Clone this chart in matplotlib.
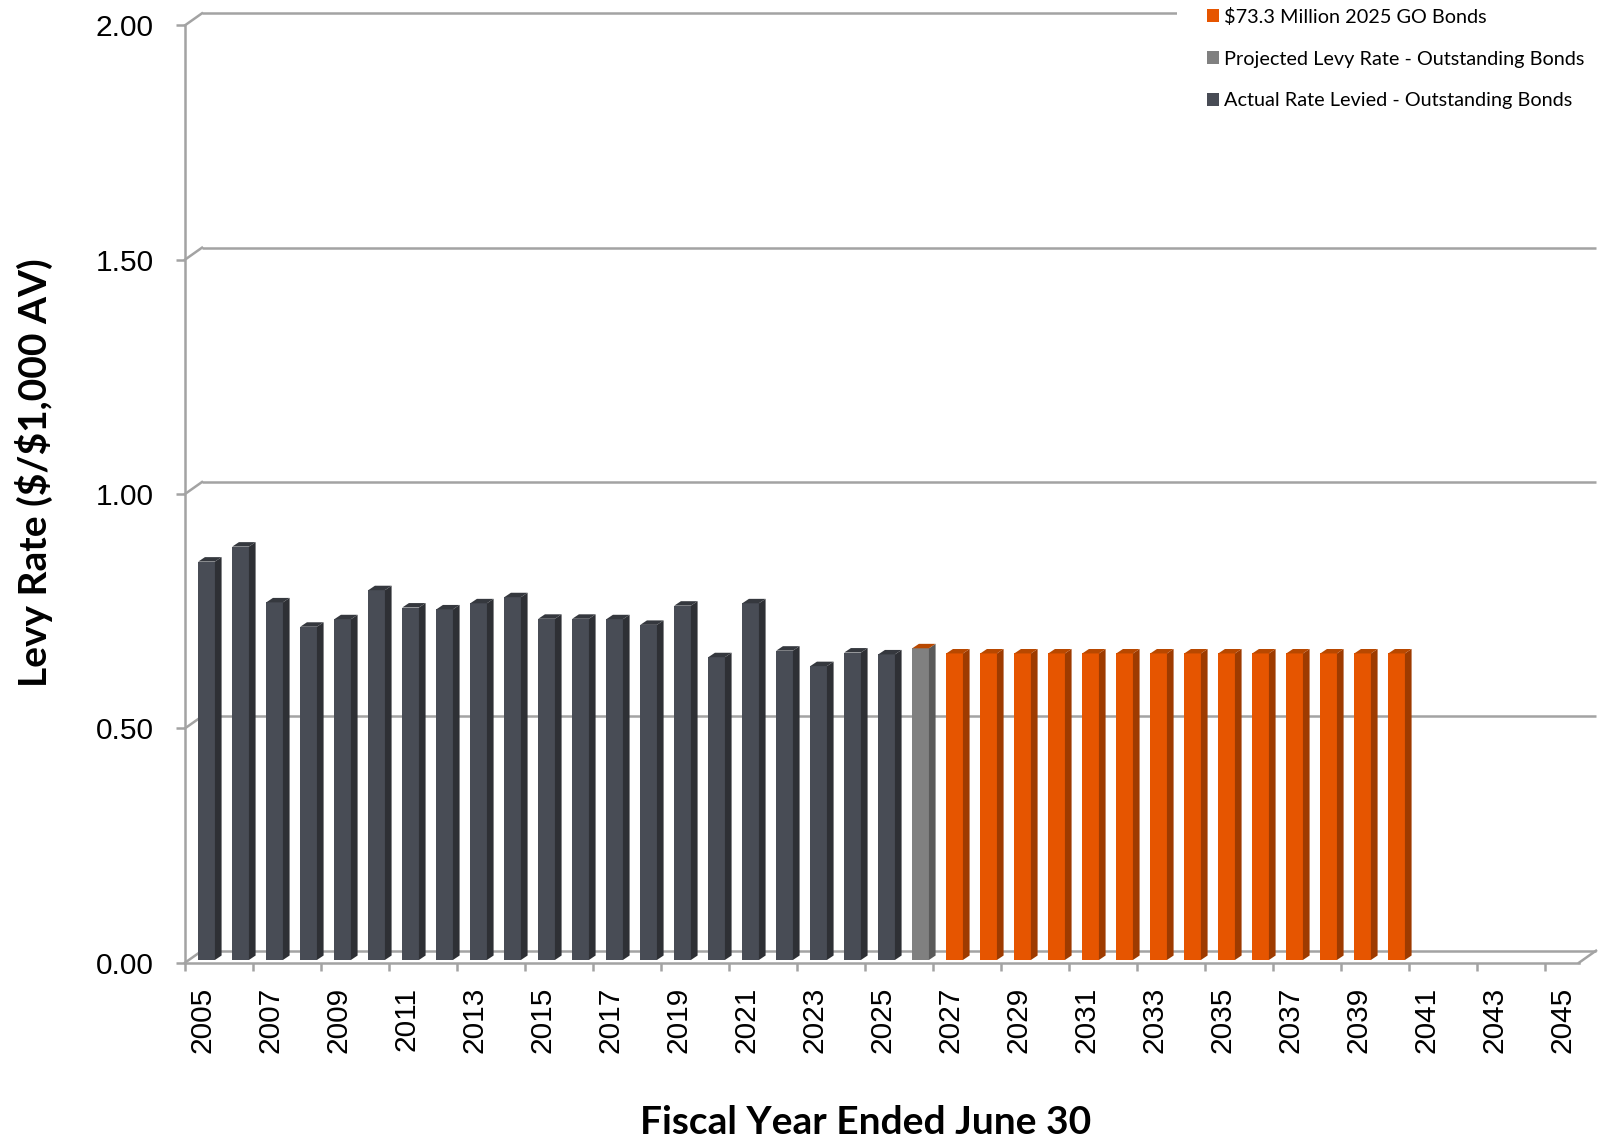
import matplotlib
matplotlib.use('Agg')
import matplotlib.pyplot as plt
from matplotlib.patches import Patch, Polygon

# Levy rate ($ per $1,000 AV) by fiscal year
actual_years = list(range(2005, 2026))
actual_rate = [0.850, 0.882, 0.763, 0.711, 0.727, 0.789, 0.752, 0.748, 0.761, 0.774,
               0.728, 0.728, 0.727, 0.715, 0.756, 0.646, 0.761, 0.660, 0.627, 0.656,
               0.652]
projected_years = [2026]
projected_rate = [0.665]
new_years = list(range(2026, 2041))
new_rate = [0.000, 0.654, 0.654, 0.654, 0.654, 0.654, 0.654, 0.654, 0.654, 0.654,
            0.654, 0.654, 0.654, 0.654, 0.654]

axis_years = list(range(2005, 2046))
y_ticks = [0.0, 0.5, 1.0, 1.5, 2.0]

# front / side / top shades for each series
DARK = ('#484C55', '#2E3035', '#35383E')
GRAY = ('#808080', '#5A5A5A', '#6A6A6A')
ORANGE = ('#E65500', '#9E3B00', '#B84800')
GRID = '#A3A3A3'

series = [
    ('Actual Rate Levied - Outstanding Bonds', actual_years, actual_rate, DARK),
    ('Projected Levy Rate - Outstanding Bonds', projected_years, projected_rate, GRAY),
    ('$73.3 Million 2025 GO Bonds', new_years, new_rate, ORANGE),
]

# fake 3d: wall depth and bar geometry in data units
DX, DY = 0.5, 0.0256
BAR_L, BAR_W, BAR_Y0 = -0.11, 0.49, 0.0058
SX, SY = 0.196, 0.0095

plt.rcParams['font.family'] = ['Liberation Sans', 'DejaVu Sans']

fig = plt.figure(figsize=(16, 11.44), dpi=100)
ax = fig.add_axes([185 / 1600, 1 - 962.7 / 1144, 1394 / 1600, 937.4 / 1144])
ax.set_xlim(-0.5, 40.5)
ax.set_ylim(0, 2)
ax.patch.set_alpha(0)

# back wall gridlines, side wall diagonals and the floor
n = len(axis_years)
for v in y_ticks:
    ax.plot([-0.5 + DX, n - 0.5 + DX], [v + DY, v + DY], color=GRID, lw=1.8,
            clip_on=False, zorder=1, solid_capstyle='butt')
    ax.plot([-0.5, -0.5 + DX], [v, v + DY], color=GRID, lw=1.8, clip_on=False, zorder=1)
ax.plot([n - 0.5, n - 0.5 + DX], [0, DY], color=GRID, lw=1.8, clip_on=False, zorder=1)

# stacked 3d columns
pos = {y: i for i, y in enumerate(axis_years)}
level = {y: BAR_Y0 for y in axis_years}
top_color = {}
for label, yrs, vals, (front, side, top) in series:
    xs = [pos[y] for y in yrs]
    bottoms = [level[y] for y in yrs]
    ax.bar([x + BAR_L for x in xs], vals, width=BAR_W, bottom=bottoms, align='edge',
           color=front, lw=0, zorder=3, clip_on=False)
    for x, b, v in zip(xs, bottoms, vals):
        x1 = x + BAR_L + BAR_W
        ax.add_patch(Polygon([(x1, b), (x1 + SX, b + SY), (x1 + SX, b + v + SY), (x1, b + v)],
                             closed=True, fc=side, lw=0, zorder=3, clip_on=False))
    for y, v in zip(yrs, vals):
        level[y] += v
        top_color[y] = top

for y, c in top_color.items():
    x0 = pos[y] + BAR_L
    x1 = x0 + BAR_W
    h = level[y]
    ax.add_patch(Polygon([(x0, h), (x1, h), (x1 + SX, h + SY), (x0 + SX, h + SY)],
                         closed=True, fc=c, lw=0, zorder=4, clip_on=False))

# axes
for s in ['top', 'right']:
    ax.spines[s].set_visible(False)
for s in ['left', 'bottom']:
    ax.spines[s].set_color(GRID)
    ax.spines[s].set_linewidth(1.8)
    ax.spines[s].set_zorder(5)

ax.set_xticks(range(0, n, 2))
ax.set_xticklabels([str(y) for y in axis_years[::2]], rotation=90)
ax.set_xticks([i - 0.5 for i in range(0, n, 2)], minor=True)
ax.tick_params(axis='x', which='major', length=0, pad=17.5, labelsize=21.5)
ax.tick_params(axis='x', which='minor', length=6, width=1.8, color=GRID)
ax.set_yticks(y_ticks)
ax.set_yticklabels([f'{v:.2f}' for v in y_ticks])
ax.tick_params(axis='y', length=6.5, width=1.8, color=GRID, pad=16, labelsize=21.5)

title_font = dict(family='Lato', weight='bold', size=28)
ax.set_xlabel('Fiscal Year Ended June 30', va='center', **title_font)
ax.xaxis.set_label_coords(0.4885, -0.170)
ax.set_ylabel('Levy Rate (\\$/\\$1,000 AV)', va='center', **title_font)
ax.yaxis.set_label_coords(-0.1083, 0.5224)

handles = [Patch(fc=s[3][0]) for s in series[::-1]]
labels = [s[0] for s in series[::-1]]
fig.legend(handles, labels, loc='upper left', bbox_to_anchor=(1177 / 1600, 1 + 22 / 1144),
           frameon=True, facecolor='white', edgecolor='none', framealpha=1, fancybox=False,
           prop=dict(family='Lato', size=14.3), handlelength=0.6, handleheight=0.6,
           handletextpad=0.25, labelspacing=1.25, borderpad=1.5, borderaxespad=0)

fig.savefig('out.png', dpi=100)
